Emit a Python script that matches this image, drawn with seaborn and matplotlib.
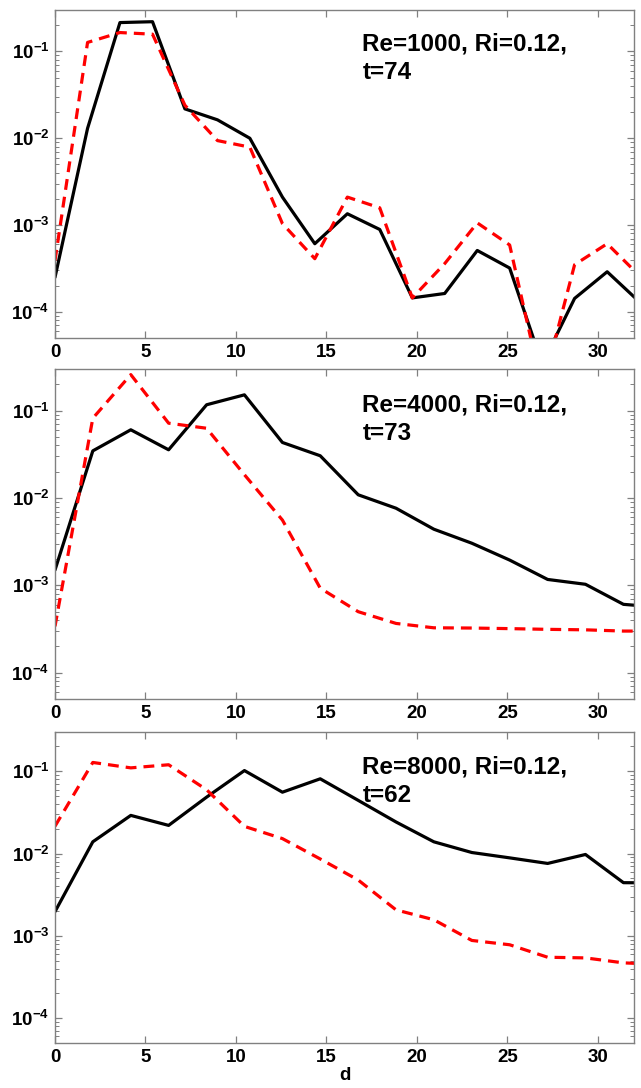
import numpy as np
import matplotlib
matplotlib.use("Agg")
import matplotlib.pyplot as plt
import seaborn as sns
from matplotlib.ticker import LogLocator, NullFormatter, FixedLocator

# ------------------------------------------------------------
# data
# ------------------------------------------------------------
d_re1000 = [0, 1.80, 3.59, 5.39, 7.18, 8.98, 10.77, 12.57, 14.36, 16.16,
            17.95, 19.75, 21.54, 23.34, 25.13, 26.93, 28.72, 30.52, 32.31]
d_re4000 = [0, 2.09, 4.19, 6.28, 8.38, 10.47, 12.57, 14.66, 16.76, 18.85,
            20.94, 23.04, 25.13, 27.23, 29.32, 31.42, 33.51]
d_re8000 = d_re4000

solid_re1000 = [2.5e-4, 1.3e-2, 0.215, 0.22, 2.18e-2, 1.63e-2, 1.0e-2, 2.1e-3,
                6.1e-4, 1.35e-3, 8.9e-4, 1.45e-4, 1.63e-4, 5.1e-4, 3.2e-4,
                2.5e-5, 1.43e-4, 2.9e-4, 1.3e-4]
dashed_re1000 = [3.9e-4, 0.127, 0.165, 0.158, 2.4e-2, 9.4e-3, 7.9e-3, 1.04e-3,
                 4.1e-4, 2.1e-3, 1.58e-3, 1.45e-4, 3.6e-4, 1.06e-3, 5.9e-4,
                 1.3e-5, 3.5e-4, 6.1e-4, 2.6e-4]

solid_re4000 = [1.5e-3, 3.47e-2, 6.05e-2, 3.57e-2, 0.117, 0.152, 4.33e-2,
                3.05e-2, 1.09e-2, 7.65e-3, 4.4e-3, 3.04e-3, 1.95e-3, 1.17e-3,
                1.03e-3, 6.07e-4, 5.6e-4]
dashed_re4000 = [3.4e-4, 8.2e-2, 0.259, 7.2e-2, 6.3e-2, 1.85e-2, 5.6e-3, 9.3e-4,
                 5.0e-4, 3.67e-4, 3.27e-4, 3.25e-4, 3.2e-4, 3.14e-4, 3.1e-4,
                 3.0e-4, 3.0e-4]

solid_re8000 = [1.97e-3, 1.39e-2, 2.91e-2, 2.2e-2, 4.85e-2, 0.102, 5.57e-2,
                8.1e-2, 4.43e-2, 2.42e-2, 1.39e-2, 1.03e-2, 8.87e-3, 7.59e-3,
                9.75e-3, 4.43e-3, 4.4e-3]
dashed_re8000 = [2.15e-2, 0.128, 0.110, 0.120, 5.96e-2, 2.14e-2, 1.52e-2, 8.6e-3,
                 4.77e-3, 2.07e-3, 1.57e-3, 8.8e-4, 7.8e-4, 5.5e-4, 5.4e-4,
                 4.7e-4, 4.5e-4]

labels = ["Re=1000, Ri=0.12,\nt=74", "Re=4000, Ri=0.12,\nt=73",
          "Re=8000, Ri=0.12,\nt=62"]
x_ticks = [0, 5, 10, 15, 20, 25, 30]
y_ticks = [1e-4, 1e-3, 1e-2, 1e-1]
y_ticklabels = [r"$10^{-4}$", r"$10^{-3}$", r"$10^{-2}$", r"$10^{-1}$"]

panels = [
    (d_re1000, solid_re1000, dashed_re1000),
    (d_re4000, solid_re4000, dashed_re4000),
    (d_re8000, solid_re8000, dashed_re8000),
]

# ------------------------------------------------------------
# style
# ------------------------------------------------------------
sns.set_style("ticks")
plt.rcParams["font.family"] = ["Liberation Sans", "DejaVu Sans"]
plt.rcParams["font.weight"] = "bold"
plt.rcParams["text.color"] = "black"
plt.rcParams["axes.labelcolor"] = "black"
plt.rcParams["mathtext.fontset"] = "custom"
plt.rcParams["mathtext.rm"] = "Liberation Sans:bold"
plt.rcParams["mathtext.it"] = "Liberation Sans:bold"
plt.rcParams["mathtext.bf"] = "Liberation Sans:bold"
plt.rcParams["mathtext.default"] = "rm"

fig = plt.figure(figsize=(6.41, 10.88), dpi=100)
rects = [
    [0.0858, 0.6893, 0.9032, 0.3015],
    [0.0858, 0.3575, 0.9032, 0.3033],
    [0.0858, 0.0414, 0.9032, 0.2858],
]
text_y = [0.93, 0.927, 0.923]
spine_col = "#808080"

for i, (rect, (d, solid, dashed)) in enumerate(zip(rects, panels)):
    ax = fig.add_axes(rect)
    sns.lineplot(x=d, y=solid, ax=ax, color="black", linewidth=2.3, sort=False)
    sns.lineplot(x=d, y=dashed, ax=ax, color="#ff0000", linewidth=2.3,
                 sort=False, dashes=False)
    ax.lines[-1].set_dashes([3.4, 2.2])

    ax.set_yscale("log")
    ax.set_xlim(0, 32)
    ax.set_ylim(5e-5, 0.3)
    ax.xaxis.set_major_locator(FixedLocator(x_ticks))
    ax.set_yticks(y_ticks)
    ax.set_yticklabels(y_ticklabels)
    ax.yaxis.set_minor_locator(LogLocator(base=10, subs=np.arange(2, 10), numticks=20))
    ax.yaxis.set_minor_formatter(NullFormatter())

    for s in ax.spines.values():
        s.set_visible(True)
        s.set_color(spine_col)
        s.set_linewidth(1.0)
    ax.tick_params(which="both", direction="in", top=True, right=True,
                   color=spine_col, labelcolor="black")
    ax.tick_params(which="major", length=5, width=0.9, labelsize=13.5)
    ax.tick_params(which="minor", length=3, width=0.7)
    ax.tick_params(axis="x", pad=4)
    ax.tick_params(axis="y", pad=4)

    ax.text(0.531, text_y[i], labels[i], transform=ax.transAxes,
            fontsize=17.5, fontweight="bold", va="top", ha="left",
            linespacing=1.3, color="black")
    ax.set_ylabel("")
    ax.set_xlabel("")

ax.set_xlabel("d", fontsize=13.5, fontweight="bold", labelpad=1, color="black")

fig.savefig("out.png", dpi=100)
